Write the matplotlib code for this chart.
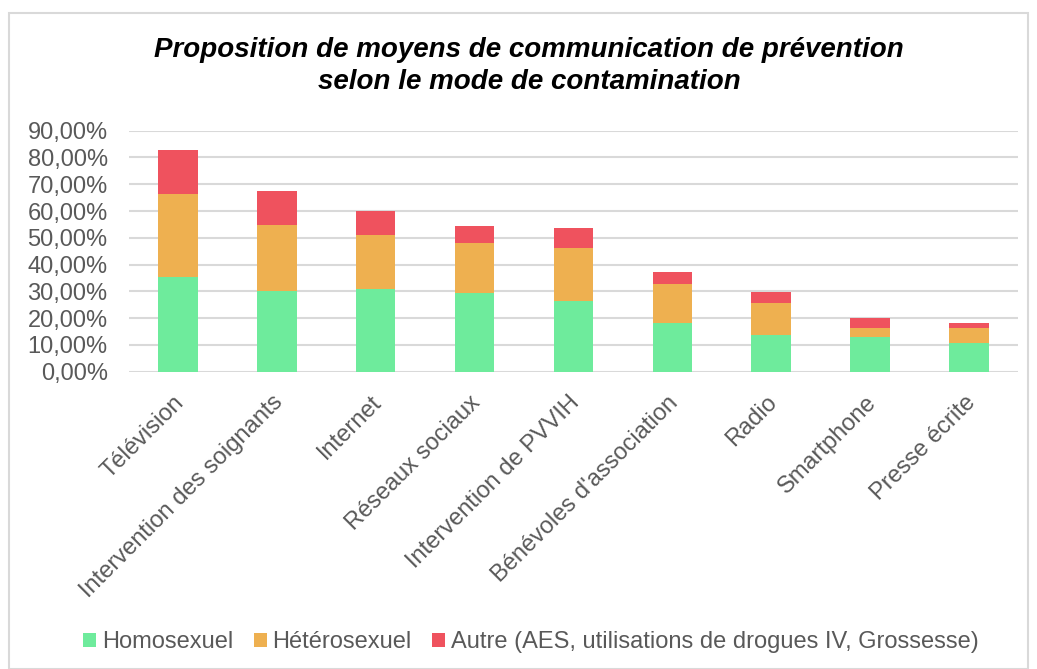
import matplotlib.pyplot as plt
from matplotlib.patches import Rectangle
from matplotlib.ticker import FuncFormatter
from matplotlib.transforms import ScaledTranslation

categories = ["Télévision", "Intervention des soignants", "Internet", "Réseaux sociaux",
              "Intervention de PVVIH", "Bénévoles d'association", "Radio", "Smartphone",
              "Presse écrite"]
homo = [35.5, 30.0, 30.9, 29.3, 26.4, 18.1, 13.6, 12.8, 10.7]
hetero = [30.9, 24.7, 20.1, 18.9, 19.9, 14.6, 11.9, 3.5, 5.6]
autre = [16.4, 12.7, 9.1, 6.3, 7.4, 4.5, 4.4, 3.8, 1.9]
series_names = ["Homosexuel", "Hétérosexuel",
                "Autre (AES, utilisations de drogues IV, Grossesse)"]
colors = ["#6EEB9C", "#EEB050", "#EF525E"]
yticks = [0, 10, 20, 30, 40, 50, 60, 70, 80, 90]

plt.rcParams['font.family'] = ['Liberation Sans', 'DejaVu Sans']
grey = "#595959"

W, H = 1037, 669
fig = plt.figure(figsize=(W / 100, H / 100), dpi=100)
ax = fig.add_axes([128.5 / W, 1 - 371.7 / H, (1018.5 - 128.5) / W, (371.7 - 130.7) / H])

x = list(range(len(categories)))
bottom2 = [a for a in homo]
bottom3 = [a + b for a, b in zip(homo, hetero)]
ax.bar(x, homo, width=0.4, color=colors[0], label=series_names[0], zorder=3)
ax.bar(x, hetero, width=0.4, bottom=bottom2, color=colors[1], label=series_names[1], zorder=3)
ax.bar(x, autre, width=0.4, bottom=bottom3, color=colors[2], label=series_names[2], zorder=3)

ax.set_xlim(-0.5, len(categories) - 0.5)
ax.set_ylim(0, 90)
ax.set_yticks(yticks)
ax.yaxis.set_major_formatter(FuncFormatter(lambda v, p: f"{v:.2f}".replace(".", ",") + "%"))
ax.grid(axis='y', color="#D9D9D9", linewidth=1.5, zorder=0)
for s in ax.spines.values():
    s.set_visible(False)
ax.tick_params(axis='both', length=0, labelsize=17, labelcolor=grey)
ax.tick_params(axis='y', pad=15)
ax.set_xticks(x)
ax.set_xticklabels(categories, rotation=45, ha='right', rotation_mode='anchor')
shift = ScaledTranslation(-5 / 100, -15 / 100, fig.dpi_scale_trans)
for lbl in ax.get_xticklabels():
    lbl.set_transform(lbl.get_transform() + shift)

fig.text(529 / W, 1 - 50 / H, "Proposition de moyens de communication de prévention",
         ha='center', va='center', fontsize=20, fontweight='bold', fontstyle='italic')
fig.text(529 / W, 1 - 82 / H, "selon le mode de contamination",
         ha='center', va='center', fontsize=20, fontweight='bold', fontstyle='italic')

leg = fig.legend(loc='center', bbox_to_anchor=(531 / W, 1 - 642 / H), ncol=3, frameon=False,
                 fontsize=17, handlelength=0.55, handleheight=0.55, handletextpad=0.25,
                 columnspacing=0.85, borderaxespad=0, borderpad=0)
for t in leg.get_texts():
    t.set_color(grey)

fig.patches.append(Rectangle((9 / W, 0.0), (1028 - 9) / W, 1 - 13 / H, transform=fig.transFigure,
                             fill=False, edgecolor="#D9D9D9", linewidth=1.5))

fig.savefig("out.png", dpi=100)
plt.close(fig)
